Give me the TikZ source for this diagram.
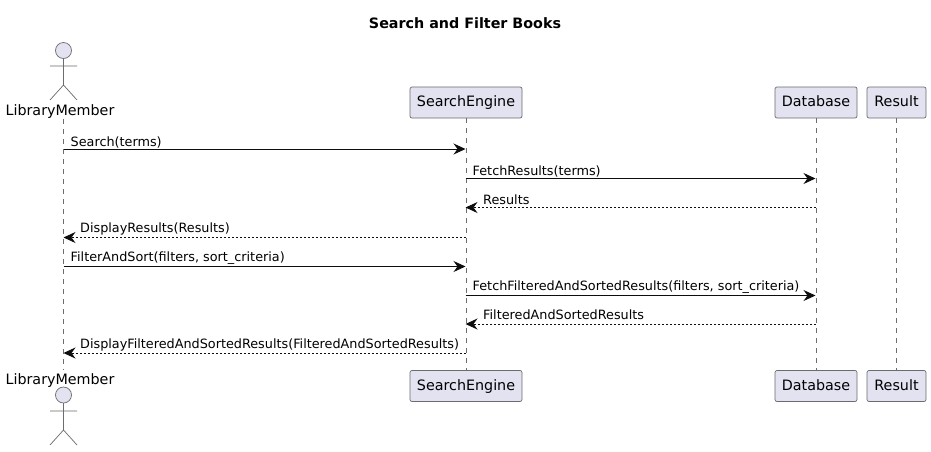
\documentclass[tikz,border=0pt]{standalone}
\usepackage{fontspec}
\setmainfont{DejaVu Sans}
\usepackage{xcolor}
\usetikzlibrary{arrows.meta,positioning}
\definecolor{partfill}{HTML}{E2E2F0}
\definecolor{partline}{HTML}{6B6B70}
\tikzset{
part/.style={draw=partline,fill=partfill,rounded corners=2pt,line width=0.7pt,minimum height=31pt,inner sep=0pt,text height=11pt,text depth=2.5pt,font=\fontsize{14.3}{16}\selectfont,text=black},
who/.style={font=\fontsize{14.3}{16}\selectfont,text=black,inner sep=0pt,anchor=base},
life/.style={draw=partline,line width=0.7pt,dash pattern=on 5pt off 5pt},
call/.style={-{Stealth[length=12pt,width=11pt,inset=4pt]},line width=0.9pt,draw=black!95},
back/.style={call,dash pattern=on 2pt off 2pt},
msg/.style={font=\fontsize{12.8}{15}\selectfont,text=black,inner sep=0pt,anchor=base west},
limb/.style={draw=partline,line width=0.7pt},
}
\begin{document}
\begin{tikzpicture}[x=1pt,y=-1pt]
\useasboundingbox (0,0) rectangle (931,451);
\fill[white](0,0) rectangle (931,451);
\node[font=\bfseries\fontsize{14.3}{16}\selectfont,text=black,inner sep=0pt] (title) at (465,23) {Search and Filter Books};
% participants
\node[who] (memtop) at (60,115) {LibraryMember};
\node[who] (membot) at (60,384) {LibraryMember};
\node[part,minimum width=112pt] (engtop) at (466,102.5) {SearchEngine};
\node[part,minimum width=112pt] (engbot) at (466,386) {SearchEngine};
\node[part,minimum width=82pt] (dbtop) at (816,102.5) {Database};
\node[part,minimum width=82pt] (dbbot) at (816,386) {Database};
\node[part,minimum width=59pt] (restop) at (896.5,102.5) {Result};
\node[part,minimum width=59pt] (resbot) at (896.5,386) {Result};
% lifelines
\coordinate (memA) at (63.5,119);
\coordinate (memB) at (63.5,370);
\draw[life](memA)--(memB);
\draw[life](engtop.south)--(engbot.north);
\draw[life](dbtop.south)--(dbbot.north);
\draw[life](restop.south)--(resbot.north);
% actors
\draw[limb,fill=partfill](63.5,50.5)circle(8);
\draw[limb](63.5,58.5)--(63.5,85)(50,66)--(77,66)(50,100)--(63.5,85)--(77,100);
\draw[limb,fill=partfill](63.5,395)circle(8);
\draw[limb](63.5,403)--(63.5,430)(50,411)--(77,411)(50,445)--(63.5,430)--(77,445);
% messages
\coordinate (mem1) at (63.5,149);
\coordinate (eng1) at (465.5,149);
\coordinate (eng2) at (465.5,178.5);
\coordinate (db2) at (815.5,178.5);
\coordinate (db3) at (815.5,207.5);
\coordinate (eng3) at (465.5,207.5);
\coordinate (eng4) at (465.5,237.5);
\coordinate (mem4) at (63.5,237.5);
\coordinate (mem5) at (63.5,266.5);
\coordinate (eng5) at (465.5,266.5);
\coordinate (eng6) at (465.5,295.5);
\coordinate (db6) at (815.5,295.5);
\coordinate (db7) at (815.5,324);
\coordinate (eng7) at (465.5,324);
\coordinate (eng8) at (465.5,353);
\coordinate (mem8) at (63.5,353);
\draw[call](mem1)--(eng1);
\draw[call](eng2)--(db2);
\draw[back](db3)--(eng3);
\draw[back](eng4)--(mem4);
\draw[call](mem5)--(eng5);
\draw[call](eng6)--(db6);
\draw[back](db7)--(eng7);
\draw[back](eng8)--(mem8);
\node[msg] (t1) at (70.5,146) {Search(terms)};
\node[msg] (t2) at (472.5,175) {FetchResults(terms)};
\node[msg] (t3) at (483,204) {Results};
\node[msg] (t4) at (80,232.5) {DisplayResults(Results)};
\node[msg] (t5) at (70.5,261.5) {FilterAndSort(filters, sort\_criteria)};
\node[msg] (t6) at (472.5,290.5) {FetchFilteredAndSortedResults(filters, sort\_criteria)};
\node[msg] (t7) at (483,319.5) {FilteredAndSortedResults};
\node[msg] (t8) at (80,348.5) {DisplayFilteredAndSortedResults(FilteredAndSortedResults)};
\end{tikzpicture}
\end{document}
